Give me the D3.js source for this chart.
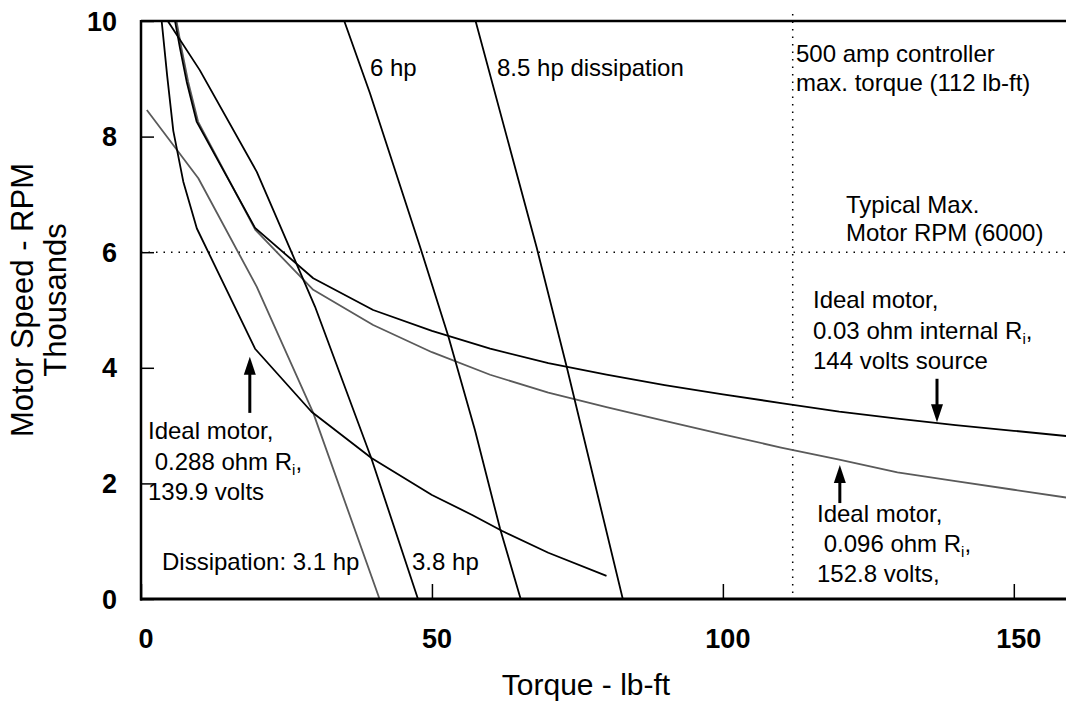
<!DOCTYPE html>
<html><head><meta charset="utf-8">
<script src="https://cdn.jsdelivr.net/npm/d3@7"></script>
<style>
body{margin:0;background:#fff}
text{font-family:"Liberation Sans",Arial,sans-serif;fill:#000}
</style>
</head><body>
<svg id="c" width="1066" height="704"></svg>
<script>
// ---- data (torque lb-ft, speed thousands RPM) ----
const xTicks = [0, 50, 100, 150];
const yTicks = [0, 2, 4, 6, 8, 10];
const motor003 = [[5.85,10],[6.7,9.53],[7.85,8.95],[9.56,8.26],[19.6,6.42],[29.6,5.55],[39.9,5.0],[50,4.64],[60,4.33],[70,4.08],[80,3.88],[90,3.7],[100,3.54],[110,3.39],[120,3.24],[130,3.12],[140,3.01],[150,2.91],[160,2.81]];
const motor0096 = [[6.1,10],[6.95,9.53],[8.1,8.95],[9.8,8.26],[19.7,6.38],[29.6,5.35],[39.9,4.74],[50,4.27],[60,3.88],[70,3.57],[80,3.32],[90,3.08],[100,2.85],[110,2.62],[120,2.41],[130,2.19],[140,2.04],[150,1.89],[160,1.74]];
const motor0288 = [[3.55,10],[4.5,9.05],[5.55,8.1],[7.27,7.22],[9.6,6.41],[19.6,4.33],[29.3,3.24],[39.6,2.44],[50,1.8],[57,1.45],[62,1.18],[70,0.8],[80,0.4]];
const diss31 = [[1,8.46],[9.85,7.28],[19.9,5.4],[29.6,3.22],[41,0]];
const diss38 = [[4.6,10],[10.1,9.15],[19.9,7.39],[29.9,5.06],[39.6,2.43],[47.6,0]];
const diss6 = [[34.93,10],[39.35,8.75],[47.94,6.1],[52.8,4.55],[57.4,2.92],[61.7,1.22],[65.25,0]];
const diss85 = [[57.5,10],[68,6.08],[73.2,4.0],[82.8,0]];
const maxTorque = 112;
const maxRPM = 6;

// ---- layout ----
const svg = d3.select("#c");
const x = d3.scaleLinear().domain([0,160]).range([141,1072]);
const y = d3.scaleLinear().domain([0,10]).range([599,21]);

svg.append("defs").append("clipPath").attr("id","clip")
  .append("rect").attr("x",141).attr("y",21).attr("width",940).attr("height",578);

// reference dotted lines
svg.append("line").attr("x1",x(0)).attr("x2",1066).attr("y1",y(maxRPM)).attr("y2",y(maxRPM))
  .attr("stroke","#000").attr("stroke-width",1.5).attr("stroke-dasharray","1.5,6");
svg.append("line").attr("x1",x(maxTorque)).attr("x2",x(maxTorque)).attr("y1",14).attr("y2",y(0))
  .attr("stroke","#000").attr("stroke-width",1.5).attr("stroke-dasharray","1.5,6");

// curves
const line = d3.line().x(d=>x(d[0])).y(d=>y(d[1]));
const g = svg.append("g").attr("clip-path","url(#clip)");
const series = [
  {d:diss31, c:"#5a5a5a"},
  {d:motor0096, c:"#5a5a5a"},
  {d:diss38, c:"#000"},
  {d:diss6, c:"#000"},
  {d:diss85, c:"#000"},
  {d:motor0288, c:"#000"},
  {d:motor003, c:"#000"}
];
g.selectAll("path.s").data(series).join("path").attr("class","s")
  .attr("d",s=>line(s.d)).attr("fill","none").attr("stroke",s=>s.c).attr("stroke-width",1.8)
  .attr("stroke-linejoin","round");

// axes
const xAxis = d3.axisTop(x).tickValues(xTicks).tickSize(15).tickFormat("");
svg.append("g").attr("transform",`translate(0,${y(0)})`).call(xAxis)
  .call(a=>{a.select(".domain").remove(); a.selectAll("line").attr("stroke","#000").attr("stroke-width",1.5);});
const yAxis = d3.axisRight(y).tickValues(yTicks).tickSize(13).tickFormat("");
svg.append("g").attr("transform",`translate(${x(0)},0)`).call(yAxis)
  .call(a=>{a.select(".domain").remove(); a.selectAll("line").attr("stroke","#000").attr("stroke-width",1.5);});

// frame lines
svg.append("line").attr("x1",x(0)).attr("x2",1066).attr("y1",y(10)).attr("y2",y(10)).attr("stroke","#000").attr("stroke-width",2.5);
svg.append("line").attr("x1",x(0)).attr("x2",x(0)).attr("y1",y(10)-1).attr("y2",y(0)+1.5).attr("stroke","#000").attr("stroke-width",2.5);
svg.append("line").attr("x1",x(0)-1).attr("x2",1066).attr("y1",y(0)).attr("y2",y(0)).attr("stroke","#000").attr("stroke-width",3);

// tick labels
svg.selectAll("text.xt").data(xTicks).join("text").attr("class","xt")
  .attr("x",d=>x(d)+5).attr("y",648).attr("text-anchor","middle")
  .attr("font-size",27).attr("font-weight","bold").text(d=>d);
svg.selectAll("text.yt").data(yTicks).join("text").attr("class","yt")
  .attr("x",117).attr("y",d=>y(d)+9.5).attr("text-anchor","end")
  .attr("font-size",27).attr("font-weight","bold").text(d=>d);

// axis titles
svg.append("text").attr("x",586).attr("y",695).attr("text-anchor","middle").attr("font-size",30).text("Torque - lb-ft");
svg.append("text").attr("transform","translate(33,300) rotate(-90)").attr("text-anchor","middle").attr("font-size",31).text("Motor Speed - RPM");
svg.append("text").attr("transform","translate(66,300) rotate(-90)").attr("text-anchor","middle").attr("font-size",31).text("Thousands");

// annotations
function label(xp, yp, lines){
  const t = svg.append("text").attr("font-size",24).attr("xml:space","preserve");
  lines.forEach((l,i)=>{
    const ts = t.append("tspan").attr("x",xp).attr("y",yp[i]);
    if (l.endsWith("R_i,")) {
      ts.text(l.slice(0,-3));
      t.append("tspan").attr("font-size",15).attr("dy",5).text("i");
      t.append("tspan").attr("dy",-5).text(",");
    } else ts.text(l);
  });
}
label(370,[76],["6 hp"]);
label(497,[76],["8.5 hp dissipation"]);
label(796,[62,91],["500 amp controller","max. torque (112 lb-ft)"]);
label(846,[213,241],["Typical Max.","Motor RPM (6000)"]);
label(813,[308,339,369],["Ideal motor,","0.03 ohm internal R_i,","144 volts source"]);
label(148,[439,470,500],["Ideal motor,"," 0.288 ohm R_i,","139.9 volts"]);
label(162,[570],["Dissipation: 3.1 hp"]);
label(412,[570],["3.8 hp"]);
label(817,[522,552,582],["Ideal motor,"," 0.096 ohm R_i,","152.8 volts,"]);

// arrows
const arrows = [{x:18.7,from:3.22,to:4.19},{x:136.8,from:3.81,to:3.06},{x:120.1,from:1.66,to:2.32}];
arrows.forEach(a=>{
  const xp=x(a.x), y0=y(a.from), y1=y(a.to), dir = y1<y0 ? 1 : -1;
  svg.append("line").attr("x1",xp).attr("x2",xp).attr("y1",y0).attr("y2",y1+dir*14)
    .attr("stroke","#000").attr("stroke-width",3);
  svg.append("path").attr("d",`M${xp},${y1} L${xp-6},${y1+dir*18} L${xp+6},${y1+dir*18} Z`).attr("fill","#000");
});
</script>
</body></html>
